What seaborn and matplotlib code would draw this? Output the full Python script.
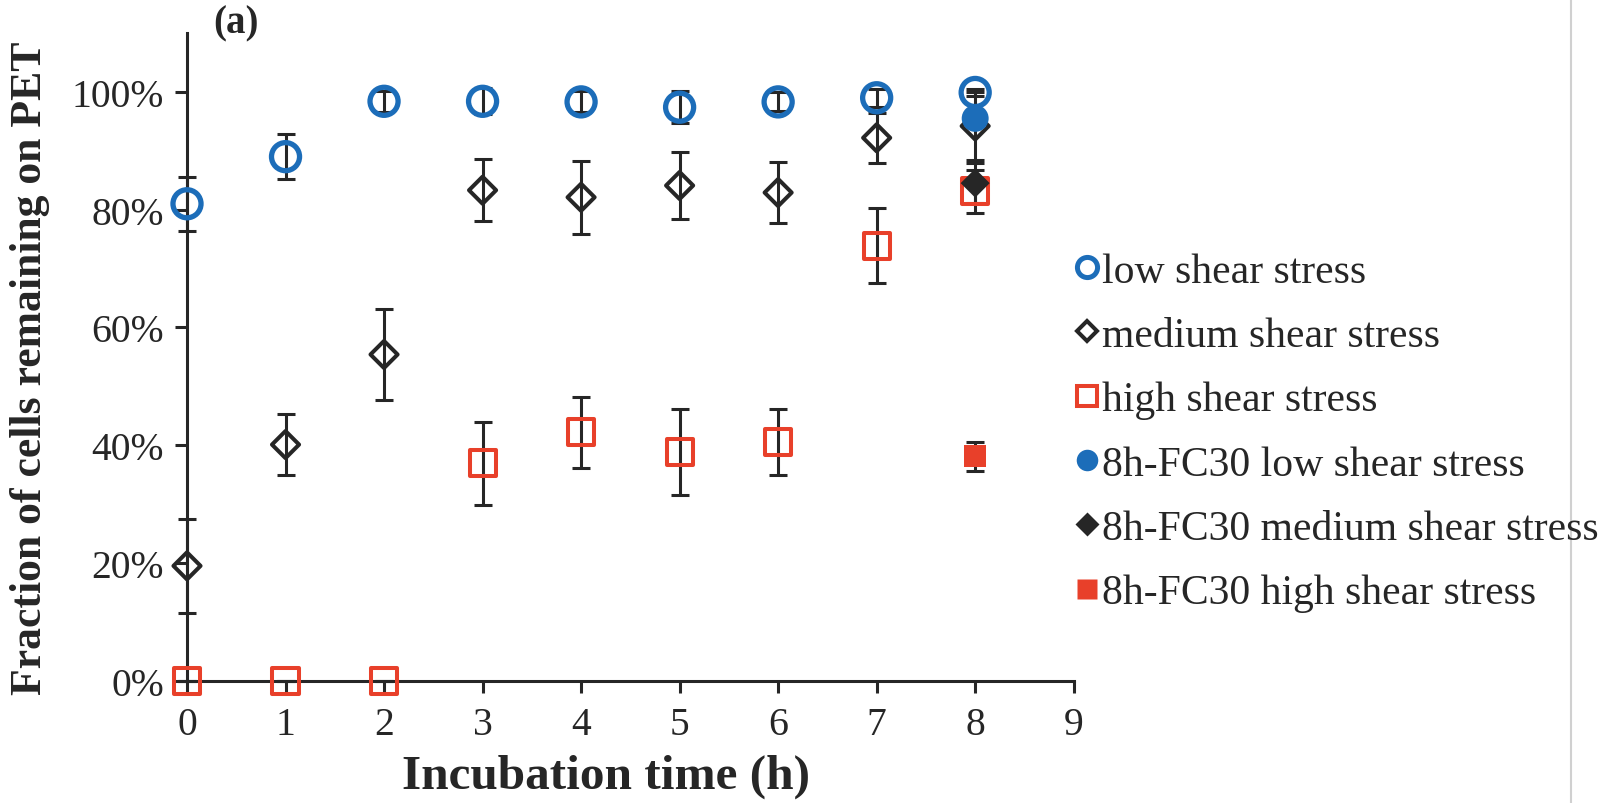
import matplotlib
matplotlib.use("Agg")
import matplotlib.pyplot as plt
from matplotlib.lines import Line2D
from matplotlib.ticker import FuncFormatter
import seaborn as sns
import numpy as np

# ---------------- data (percent) ----------------
time_h = [0, 1, 2, 3, 4, 5, 6, 7, 8]
low_mean = [81.0, 89.0, 98.4, 98.4, 98.3, 97.4, 98.3, 99.0, 99.9]
low_err = [4.6, 3.8, 1.8, 2.2, 1.8, 2.7, 1.6, 1.5, 0.6]
med_mean = [19.5, 40.1, 55.4, 83.3, 82.1, 84.1, 82.9, 92.2, 94.2]
med_err = [8.0, 5.2, 7.8, 5.3, 6.2, 5.7, 5.2, 4.2, 5.7]
high_mean = [0.0, 0.0, 0.0, 36.9, 42.2, 38.9, 40.6, 73.9, 83.1]
high_err = [0.0, 0.0, 0.0, 7.1, 6.0, 7.3, 5.6, 6.4, 3.7]
fc_time = [8]
fc_low_mean = [95.5]
fc_low_err = [1.0]
fc_med_mean = [84.5]
fc_med_err = [3.4]
fc_high_mean = [38.1]
fc_high_err = [2.5]

labels = ["low shear stress", "medium shear stress", "high shear stress",
          "8h-FC30 low shear stress", "8h-FC30 medium shear stress",
          "8h-FC30 high shear stress"]
x_ticks = list(range(0, 10))
y_ticks = [0, 20, 40, 60, 80, 100]

BLUE = "#1c6db9"
RED = "#e8402a"
DARK = "#262626"

sns.set_style("ticks")
plt.rcParams["font.family"] = ["Liberation Serif", "DejaVu Serif"]
plt.rcParams["text.color"] = DARK
plt.rcParams["axes.labelcolor"] = DARK
plt.rcParams["xtick.color"] = DARK
plt.rcParams["ytick.color"] = DARK

fig = plt.figure(figsize=(16.11, 8.04), dpi=100)
ax = fig.add_axes([187 / 1611, 1 - 681.7 / 804, 886.7 / 1611, 647.7 / 804])

err_kw = dict(fmt="none", ecolor=DARK, elinewidth=2.2, capsize=6.5,
              capthick=2.2, zorder=3, clip_on=False)

ax.errorbar(time_h, low_mean, yerr=low_err, **err_kw)
ax.errorbar(time_h, med_mean, yerr=med_err, **err_kw)
ax.errorbar(time_h, high_mean, yerr=high_err, **err_kw)
ax.errorbar(fc_time, fc_low_mean, yerr=fc_low_err, **err_kw)
ax.errorbar(fc_time, fc_med_mean, yerr=fc_med_err, **err_kw)
ax.errorbar(fc_time, fc_high_mean, yerr=fc_high_err, **err_kw)

sc_kw = dict(ax=ax, legend=False, clip_on=False)
sns.scatterplot(x=time_h, y=low_mean, marker="o", s=20.2 ** 2,
                facecolor="none", edgecolor=BLUE, linewidth=3.8, zorder=6, **sc_kw)
sns.scatterplot(x=time_h, y=med_mean, marker="D", s=13.8 ** 2,
                facecolor="none", edgecolor=DARK, linewidth=2.9, zorder=5, **sc_kw)
sns.scatterplot(x=time_h, y=high_mean, marker="s", s=18.8 ** 2,
                facecolor="none", edgecolor=RED, linewidth=2.9, zorder=5, **sc_kw)
sns.scatterplot(x=fc_time, y=fc_low_mean, marker="o", s=19.4 ** 2,
                color=BLUE, edgecolor="none", linewidth=0, zorder=7, **sc_kw)
sns.scatterplot(x=fc_time, y=fc_med_mean, marker="D", s=14.8 ** 2,
                color=DARK, edgecolor="none", linewidth=0, zorder=7, **sc_kw)
sns.scatterplot(x=fc_time, y=fc_high_mean, marker="s", s=15.8 ** 2,
                color=RED, edgecolor="none", linewidth=0, zorder=7, **sc_kw)

ax.set_xlim(0, 9)
ax.set_ylim(0, 110)
ax.set_xticks(x_ticks)
ax.set_yticks(y_ticks)
ax.yaxis.set_major_formatter(FuncFormatter(lambda v, p: f"{v:.0f}%"))
ax.tick_params(axis="both", direction="out", length=8.5, width=2.2,
               labelsize=28.5, pad=8, color=DARK)
ax.tick_params(axis="x", pad=10)
for side in ["top", "right"]:
    ax.spines[side].set_visible(False)
for side in ["left", "bottom"]:
    ax.spines[side].set_linewidth(2.2)
    ax.spines[side].set_color(DARK)
    ax.spines[side].set_zorder(2.5)

ax.set_xlabel("Incubation time (h)", fontsize=35.5, fontweight="bold")
ax.set_ylabel("Fraction of cells remaining on PET", fontsize=31.5, fontweight="bold")
ax.xaxis.set_label_coords(0.4725, -0.113)
ax.yaxis.set_label_coords(-0.155, 0.484)

fig.text(213 / 1611, 1 - 24 / 804, "(a)", fontsize=28, fontweight="bold",
         ha="left", va="center")

handles = [
    Line2D([], [], ls="none", marker="o", ms=14.5, mfc="none", mec=BLUE, mew=3.6),
    Line2D([], [], ls="none", marker="D", ms=10.5, mfc="none", mec=DARK, mew=2.9),
    Line2D([], [], ls="none", marker="s", ms=14.5, mfc="none", mec=RED, mew=2.9),
    Line2D([], [], ls="none", marker="o", ms=15.5, mfc=BLUE, mec="none"),
    Line2D([], [], ls="none", marker="D", ms=12, mfc=DARK, mec="none"),
    Line2D([], [], ls="none", marker="s", ms=15, mfc=RED, mec="none"),
]
fig.legend(handles, labels, loc="center left", bbox_to_anchor=(1074 / 1611, 0.4613),
           frameon=False, fontsize=30, handlelength=0.6, handletextpad=0.06,
           labelspacing=0.62, borderpad=0, borderaxespad=0)

fig.add_artist(Line2D([1571 / 1611, 1571 / 1611], [0, 1], transform=fig.transFigure,
                      color="#d0d0d0", lw=1.5))

fig.savefig("out.png", dpi=100)
